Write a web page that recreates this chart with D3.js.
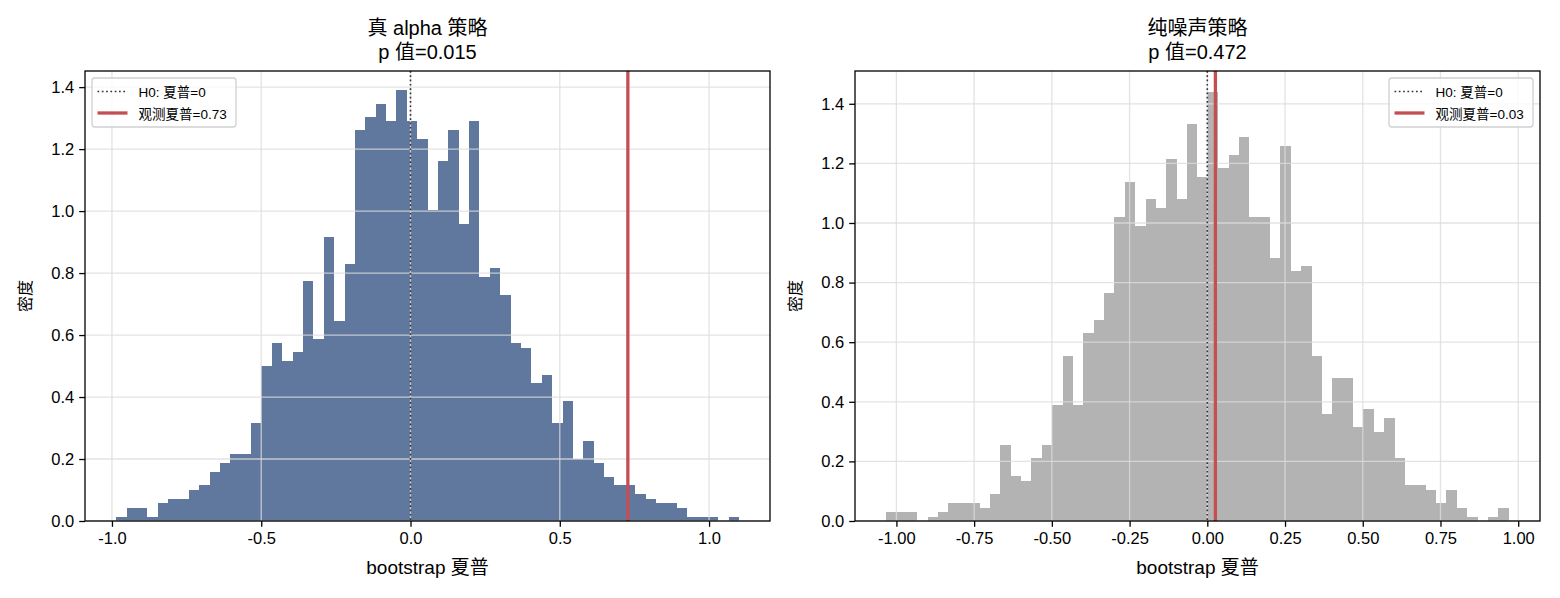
<!DOCTYPE html>
<html><head><meta charset="utf-8">
<script src="https://cdn.jsdelivr.net/npm/d3@7"></script>
<style>
body{margin:0;background:#fff;}
text{font-family:"Liberation Sans","Noto Sans CJK SC",sans-serif;}
</style></head>
<body><svg id="c" width="1560" height="598"></svg>
<script>
// ---- data ----
const leftTitle = ["真 alpha 策略", "p 值=0.015"];
const rightTitle = ["纯噪声策略", "p 值=0.472"];
const xLabel = "bootstrap 夏普";
const yLabel = "密度";
const leftBinStart = -0.986, leftBinWidth = 0.03477;
const leftCounts = [1,3,3,1,4,5,5,7,8,11,13,15,15,22,35,40,36,38,54,41,64,45,58,88,91,94,90,97,90,86,
  70,81,88,67,90,55,57,51,40,39,31,33,22,27,14,18,13,10,8,8,6,5,4,4,3,1,1,1,0,1];
const rightBinStart = -1.033, rightBinWidth = 0.03337;
const rightCounts = [2,2,2,0,1,2,4,4,4,3,6,17,10,9,14,17,26,37,26,42,45,51,68,76,66,72,70,81,72,89,
  77,96,79,82,86,68,68,59,84,56,57,37,24,32,32,21,25,20,23,14,8,8,7,4,7,3,1,0,1,3];
const leftObs = 0.728, rightObs = 0.026, h0 = 0;
const leftXTicks = [-1.0,-0.5,0.0,0.5,1.0];
const rightXTicks = [-1.0,-0.75,-0.5,-0.25,0.0,0.25,0.5,0.75,1.0];
const yTicks = [0,0.2,0.4,0.6,0.8,1.0,1.2,1.4];

const svg = d3.select("#c");

function panel(opt){
  const {x0,x1,y0,y1,xDomain,yMax,counts,binStart,binWidth,color,obs,xTicks,xFmt,title,legendRight} = opt;
  const x = d3.scaleLinear().domain(xDomain).range([x0,x1]);
  const y = d3.scaleLinear().domain([0,yMax]).range([y1,y0]);
  const total = d3.sum(counts);
  const bins = counts.map((c,i)=>({a:binStart+i*binWidth,b:binStart+(i+1)*binWidth,d:c/(total*binWidth)}));
  const g = svg.append("g");
  // bars
  g.selectAll("rect.bar").data(bins.filter(d=>d.d>0)).join("rect")
    .attr("x",d=>x(d.a)).attr("width",d=>x(d.b)-x(d.a))
    .attr("y",d=>y(d.d)).attr("height",d=>y(0)-y(d.d))
    .attr("fill",color).attr("shape-rendering","crispEdges");
  // grid
  const grid = g.append("g").attr("stroke","#dcdcdc").attr("stroke-opacity",0.8).attr("stroke-width",1.3);
  xTicks.forEach(t=>grid.append("line").attr("x1",x(t)).attr("x2",x(t)).attr("y1",y0).attr("y2",y1));
  yTicks.forEach(t=>grid.append("line").attr("x1",x0).attr("x2",x1).attr("y1",y(t)).attr("y2",y(t)));
  // lines
  g.append("line").attr("x1",x(h0)).attr("x2",x(h0)).attr("y1",y0).attr("y2",y1)
    .attr("stroke","#333").attr("stroke-width",1.6).attr("stroke-dasharray","1.7,2.6");
  g.append("line").attr("x1",x(obs)).attr("x2",x(obs)).attr("y1",y0).attr("y2",y1)
    .attr("stroke","#c44e52").attr("stroke-width",3.3);
  // axes
  const xa = g.append("g").attr("transform",`translate(0,${y1})`)
    .call(d3.axisBottom(x).tickValues(xTicks).tickFormat(xFmt).tickSize(5.8).tickPadding(5));
  const ya = g.append("g").attr("transform",`translate(${x0},0)`)
    .call(d3.axisLeft(y).tickValues(yTicks).tickFormat(d3.format(".1f")).tickSize(5.8).tickPadding(5));
  [xa,ya].forEach(a=>{a.select(".domain").remove();
    a.selectAll("line").attr("stroke","#000").attr("stroke-width",1.3);
    a.selectAll("text").attr("font-size","16.5px").attr("fill","#000")
      .style("font-family",'"Liberation Sans","Noto Sans CJK SC",sans-serif');});
  // frame
  g.append("rect").attr("x",x0).attr("y",y0).attr("width",x1-x0).attr("height",y1-y0)
    .attr("fill","none").attr("stroke","#000").attr("stroke-width",1.3);
  // title
  const cx=(x0+x1)/2;
  title.forEach((t,i)=>g.append("text").attr("x",cx).attr("y",35+i*24).attr("text-anchor","middle")
    .attr("font-size","20px").text(t));
  g.append("text").attr("x",cx).attr("y",574).attr("text-anchor","middle").attr("font-size","19px").text(xLabel);
  g.append("text").attr("transform",`translate(${x0-54},${(y0+y1)/2}) rotate(-90)`).attr("text-anchor","middle")
    .attr("font-size","16px").text(yLabel);
  // legend
  const lg = g.append("g");
  const box = lg.append("rect").attr("rx",3).attr("fill","#fff").attr("fill-opacity",0.8)
    .attr("stroke","#d0d0d0").attr("stroke-width",1.3);
  const labels = ["H0: 夏普=0", "观测夏普="+obs.toFixed(2)];
  const bw = 144, bh = 49;
  const bx = legendRight ? x1-7-bw : x0+7, by = y0+7;
  box.attr("x",bx).attr("y",by).attr("width",bw).attr("height",bh);
  lg.append("line").attr("x1",bx+5.5).attr("x2",bx+35.5).attr("y1",by+13.5).attr("y2",by+13.5)
    .attr("stroke","#333").attr("stroke-width",1.6).attr("stroke-dasharray","1.7,2.6");
  lg.append("line").attr("x1",bx+5.5).attr("x2",bx+35.5).attr("y1",by+35).attr("y2",by+35)
    .attr("stroke","#c44e52").attr("stroke-width",3.3);
  labels.forEach((t,i)=>lg.append("text").attr("x",bx+46.5).attr("y",by+19+i*21.5).attr("font-size","13.5px").text(t));
}

panel({x0:85,x1:770,y0:71,y1:521,xDomain:[-1.0903,1.2041],yMax:1.452,counts:leftCounts,
  binStart:leftBinStart,binWidth:leftBinWidth,color:"#61789e",obs:leftObs,xTicks:leftXTicks,
  xFmt:d=>d3.format(".1f")(d).replace("−","-"),title:leftTitle,legendRight:false});
panel({x0:855,x1:1540,y0:71,y1:521,xDomain:[-1.1332,1.0701],yMax:1.51,counts:rightCounts,
  binStart:rightBinStart,binWidth:rightBinWidth,color:"#b3b3b3",obs:rightObs,xTicks:rightXTicks,
  xFmt:d=>d3.format(".2f")(d).replace("−","-"),title:rightTitle,legendRight:true});
</script></body></html>
